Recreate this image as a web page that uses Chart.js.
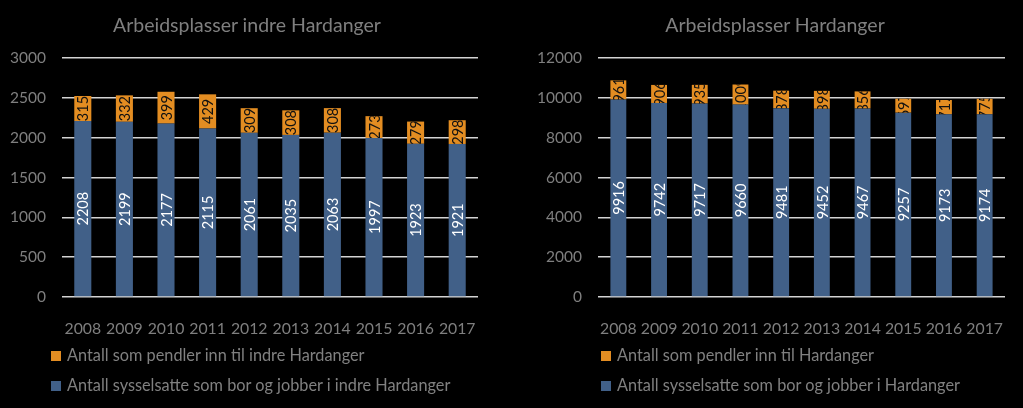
<!DOCTYPE html>
<html><head><meta charset="utf-8">
<script src="https://cdn.jsdelivr.net/npm/chart.js@4.4.1/dist/chart.umd.min.js"></script>
<style>
html,body{margin:0;padding:0;background:#000;width:1023px;height:408px;overflow:hidden;font-family:Lato,'Liberation Sans',sans-serif;}
.box{position:absolute;top:0;height:408px;}
.leg{position:absolute;color:#808080;font-size:16.3px;white-space:nowrap;line-height:20px;}
.ttl{position:absolute;color:#7f7f7f;font-size:19.5px;text-align:center;line-height:24px;top:13px;white-space:nowrap;}
.sw{display:inline-block;width:10px;height:10px;margin-right:6px;vertical-align:0px;}
</style></head><body>
<div class="box" style="left:0;width:510px"><canvas id="c1" width="510" height="408"></canvas></div>
<div class="box" style="left:510px;width:513px"><canvas id="c2" width="513" height="408"></canvas></div>
<div class="ttl" id="t1" style="left:0;width:494px"></div>
<div class="ttl" id="t2" style="left:510px;width:530px"></div>
<div class="leg" style="left:51px;top:345px"><span class="sw" style="background:#E38D22"></span>Antall som pendler inn til indre Hardanger</div>
<div class="leg" style="left:51px;top:375px"><span class="sw" style="background:#416088"></span>Antall sysselsatte som bor og jobber i indre Hardanger</div>
<div class="leg" style="left:601px;top:345px"><span class="sw" style="background:#E38D22"></span>Antall som pendler inn til Hardanger</div>
<div class="leg" style="left:601px;top:375px"><span class="sw" style="background:#416088"></span>Antall sysselsatte som bor og jobber i Hardanger</div>
<script>
const years = ['2008','2009','2010','2011','2012','2013','2014','2015','2016','2017'];
const indreLocal = [2208,2199,2177,2115,2061,2035,2063,1997,1923,1921];
const indreCommute = [315,332,399,429,309,308,308,273,279,298];
const hardLocal = [9916,9742,9717,9660,9481,9452,9467,9257,9173,9174];
const hardCommute = [961,906,935,1009,878,898,856,697,717,775];
const titles = ['Arbeidsplasser indre Hardanger', 'Arbeidsplasser Hardanger'];
const BLUE = '#416088', ORANGE = '#E38D22';
const FONT = "Lato, 'Liberation Sans', sans-serif";
document.getElementById('t1').textContent = titles[0];
document.getElementById('t2').textContent = titles[1];

const labelPlugin = {
  id: 'barLabels',
  afterDraw(chart) {
    const ctx = chart.ctx;
    chart.data.datasets.forEach((ds, di) => {
      const meta = chart.getDatasetMeta(di);
      meta.data.forEach((el, i) => {
        const p = el.getProps(['x','y','base','width'], true);
        const top = Math.min(p.y, p.base), h = Math.abs(p.base - p.y);
        ctx.save();
        ctx.beginPath();
        ctx.rect(p.x - p.width/2, top, p.width, h);
        ctx.clip();
        ctx.translate(p.x, top + h/2);
        ctx.rotate(-Math.PI/2);
        ctx.font = '14.5px ' + FONT;
        ctx.fillStyle = ds.labelColor;
        ctx.textAlign = 'center';
        ctx.textBaseline = 'middle';
        ctx.fillText(String(ds.data[i]), 0, 1);
        ctx.restore();
      });
    });
  }
};

function make(id, local, commute, max, step, yw, padRight, barPct) {
  new Chart(document.getElementById(id), {
    type: 'bar',
    data: {
      labels: years,
      datasets: [
        {label: 'local', data: local, backgroundColor: BLUE, labelColor: '#ffffff', barPercentage: barPct, categoryPercentage: 1},
        {label: 'commute', data: commute, backgroundColor: ORANGE, labelColor: '#111111', barPercentage: barPct, categoryPercentage: 1}
      ]
    },
    options: {
      responsive: false,
      animation: false,
      events: [],
      layout: {padding: {left: 0, right: padRight, top: 58, bottom: 71}},
      plugins: {
        legend: {display: false},
        tooltip: {enabled: false},
        title: {display: false}
      },
      scales: {
        x: {
          stacked: true,
          grid: {display: false},
          border: {display: false},
          ticks: {color: '#7f7f7f', font: {family: FONT, size: 15.8}, padding: 14, maxRotation: 0, autoSkip: false},
          afterFit(s) { s.height = 40; }
        },
        y: {
          stacked: true,
          z: 1,
          min: 0, max: max,
          grid: {color: '#d4d4d4', lineWidth: 1.4, drawTicks: false},
          border: {display: false},
          ticks: {stepSize: step, color: '#7f7f7f', font: {family: FONT, size: 15.5}, padding: 16, callback: v => String(v)},
          afterFit(s) { s.width = yw; }
        }
      }
    },
    plugins: [labelPlugin]
  });
}
make('c1', indreLocal, indreCommute, 3000, 500, 62, 32, 0.41);
make('c2', hardLocal, hardCommute, 12000, 2000, 88, 18, 0.39);
</script>
</body></html>
